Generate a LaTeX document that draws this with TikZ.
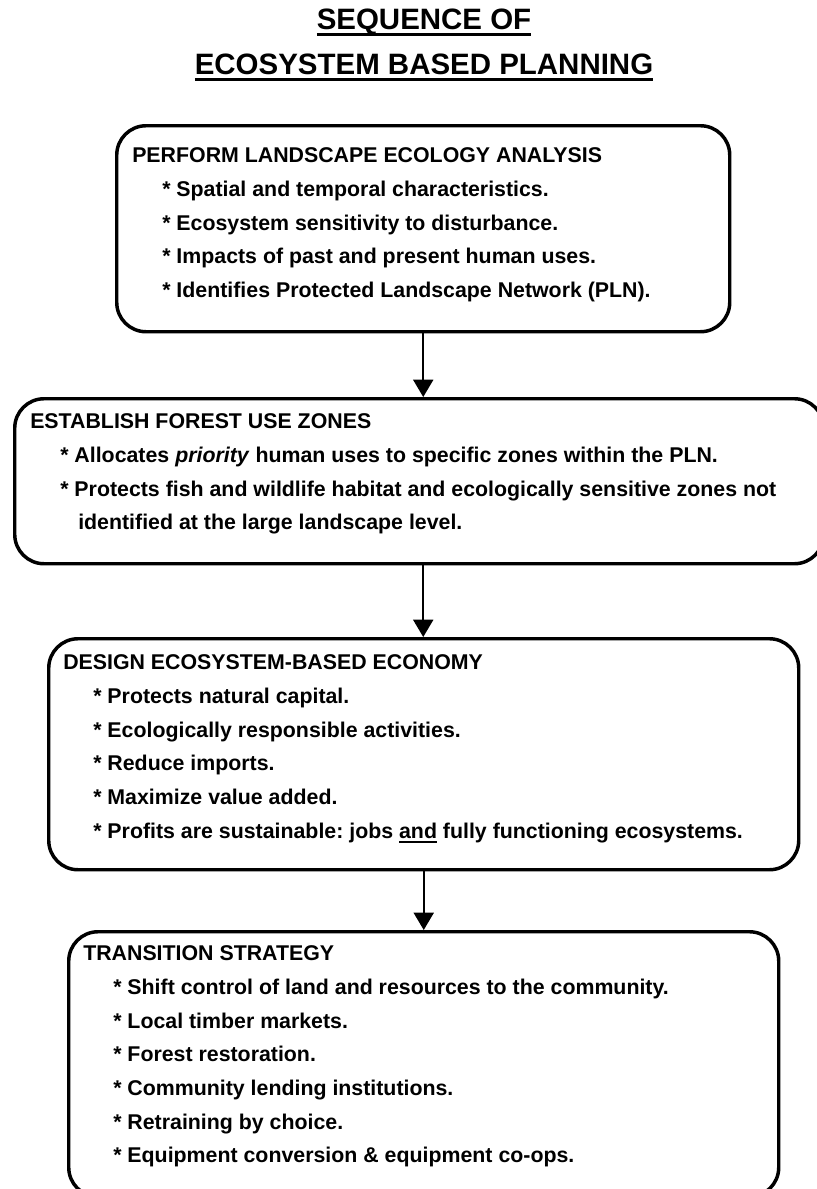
\documentclass[tikz,border=0pt]{standalone}
\usepackage{fontspec}
\setmainfont{Liberation Sans}
\usetikzlibrary{arrows.meta}
\frenchspacing
\newsavebox{\ulsave}
% underline with a given thickness
\newcommand{\undl}[2]{\sbox{\ulsave}{#2}\rlap{\rule[\dimexpr-2.2pt-#1\relax]{\wd\ulsave}{#1}}\usebox{\ulsave}}
\newcommand{\stagefont}{\fontsize{16}{25.3}\selectfont\bfseries}
\newcommand{\titlefont}{\fontsize{22.1}{33.75}\selectfont\bfseries}
\newcommand{\bul}{\hspace*{22.5pt}* }
\tikzset{
  stage/.style={draw, line width=2.6pt, rounded corners=22pt, anchor=north west, inner sep=0pt},
  stagetext/.style={anchor=north west, inner sep=0pt, align=left, font=\stagefont},
  heading/.style={anchor=north, inner sep=0pt, align=center, font=\titlefont},
  flow/.style={draw, line width=1.5pt, -{Triangle[width=15pt,length=13pt]}},
}

\begin{document}
\begin{tikzpicture}[x=0.75pt, y=-0.75pt]
  \useasboundingbox (0,0) rectangle (817,1189);
  \clip (0,0) rectangle (817,1189);

  % title
  \node[heading] (title) at (424,9) {\undl{2.3pt}{SEQUENCE OF}\\\undl{2.3pt}{ECOSYSTEM BASED PLANNING}};

  % the four stages
  \node[stage, minimum width=459.75pt, minimum height=154.5pt] (analysis) at (115,124) {};
  \node[stage, minimum width=606.75pt, minimum height=123.75pt] (zones) at (13,397) {};
  \node[stage, minimum width=562.5pt, minimum height=173.25pt] (economy) at (47,637) {};
  \node[stage, minimum width=532.5pt, minimum height=198.75pt] (transition) at (67,930) {};

  \node[stagetext] (analysistext) at (132,147.4) {PERFORM LANDSCAPE ECOLOGY ANALYSIS\\
    \bul Spatial and temporal characteristics.\\
    \bul Ecosystem sensitivity to disturbance.\\
    \bul Impacts of past and present human uses.\\
    \bul Identifies Protected Landscape Network (PLN).};

  \node[stagetext] (zonestext) at (30,413.4) {ESTABLISH FOREST USE ZONES\\
    \bul Allocates \textit{priority} human uses to specific zones within the PLN.\\
    \bul Protects fish and wildlife habitat and ecologically sensitive zones not\\
    \hspace*{36pt}identified at the large landscape level.};

  \node[stagetext] (economytext) at (63,654.4) {DESIGN ECOSYSTEM-BASED ECONOMY\\
    \bul Protects natural capital.\\
    \bul Ecologically responsible activities.\\
    \bul Reduce imports.\\
    \bul Maximize value added.\\
    \bul Profits are sustainable: jobs \undl{1.1pt}{and} fully functioning ecosystems.};

  \node[stagetext] (transitiontext) at (83,945.4) {TRANSITION STRATEGY\\
    \bul Shift control of land and resources to the community.\\
    \bul Local timber markets.\\
    \bul Forest restoration.\\
    \bul Community lending institutions.\\
    \bul Retraining by choice.\\
    \bul Equipment conversion \& equipment co-ops.};

  % sequence arrows
  \draw[flow] (analysis.south) -- (analysis.south |- zones.north);
  \draw[flow] (analysis.south |- zones.south) -- (analysis.south |- economy.north);
  \draw[flow] (economy.south) -- (economy.south |- transition.north);
\end{tikzpicture}
\end{document}
